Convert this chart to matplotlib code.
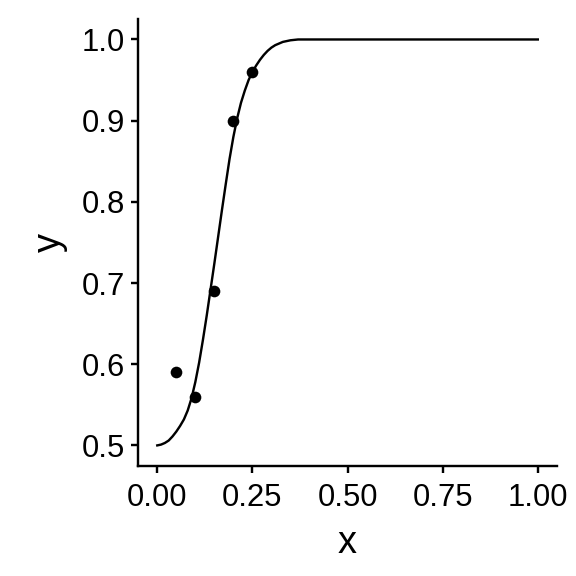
import numpy as np
import matplotlib
matplotlib.use('Agg')
import matplotlib.pyplot as plt

plt.rcParams['font.family'] = ['Liberation Sans', 'DejaVu Sans']

# observed points
x_obs = [0.05, 0.10, 0.15, 0.20, 0.25]
y_obs = [0.59, 0.56, 0.69, 0.90, 0.96]

# fitted curve
x_fit = [0.00, 0.01, 0.02, 0.03, 0.04, 0.05, 0.06, 0.07, 0.08, 0.09, 0.10,
         0.11, 0.12, 0.13, 0.14, 0.15, 0.16, 0.17, 0.18, 0.19, 0.20,
         0.21, 0.22, 0.23, 0.24, 0.25, 0.26, 0.27, 0.28, 0.29, 0.30,
         0.31, 0.32, 0.33, 0.34, 0.35, 0.37, 0.40, 1.00]
y_fit = [0.500, 0.501, 0.503, 0.506, 0.511, 0.517, 0.524, 0.532, 0.543, 0.558, 0.578,
         0.602, 0.630, 0.660, 0.692, 0.724, 0.757, 0.790, 0.822, 0.853, 0.880,
         0.903, 0.922, 0.937, 0.950, 0.960, 0.968, 0.975, 0.981, 0.986, 0.990,
         0.993, 0.995, 0.997, 0.998, 0.999, 1.000, 1.000, 1.000]

fig = plt.figure(figsize=(4, 4), dpi=144)
ax = fig.add_axes([0.240, 0.1915, 0.7267, 0.7752])

ax.plot(x_fit, y_fit, color='black', lw=1.2)
ax.scatter(x_obs, y_obs, s=34, color='black', zorder=3, linewidths=0)

ax.set_xlim(-0.05, 1.05)
ax.set_ylim(0.475, 1.025)
ax.set_xticks([0, 0.25, 0.5, 0.75, 1.0])
ax.set_xticklabels(['0.00', '0.25', '0.50', '0.75', '1.00'])
ax.set_yticks([0.5, 0.6, 0.7, 0.8, 0.9, 1.0])
ax.set_yticklabels(['0.5', '0.6', '0.7', '0.8', '0.9', '1.0'])

for s in ['top', 'right']:
    ax.spines[s].set_visible(False)
for s in ['left', 'bottom']:
    ax.spines[s].set_linewidth(1.2)
ax.tick_params(length=3.5, width=1.2, labelsize=15.5)
ax.tick_params(axis='x', pad=5)
ax.tick_params(axis='y', pad=3)

ax.set_xlabel('x', fontsize=19, labelpad=6)
ax.set_ylabel('y', fontsize=19, labelpad=7)

fig.savefig('out.png', dpi=144)
